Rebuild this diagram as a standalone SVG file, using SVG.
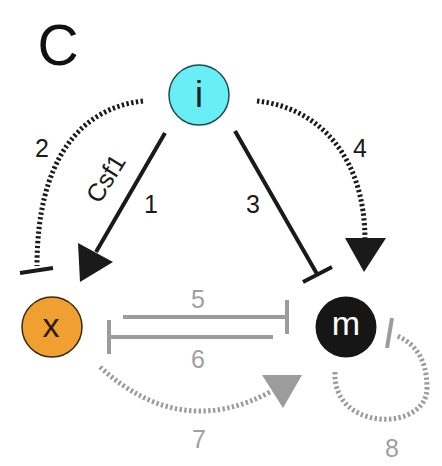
<svg xmlns="http://www.w3.org/2000/svg" width="442" height="466" viewBox="0 0 442 466">
<style>
text{font-family:"Liberation Sans",Arial,sans-serif;text-anchor:middle}
.lbl{font-size:25px;fill:#1a1a1a}
.glbl{font-size:25px;fill:#a0a0a0}
.solid{stroke:#1a1a1a;stroke-width:4;fill:none}
.dot{stroke:#1a1a1a;stroke-width:5;fill:none;stroke-dasharray:2.4 2.4}
.gsolid{stroke:#9c9c9c;stroke-width:4;fill:none}
.gdot{stroke:#9c9c9c;stroke-width:5;fill:none;stroke-dasharray:2.4 2.4}
</style>
<rect width="442" height="466" fill="#ffffff"/>
<text x="58" y="65" style="font-size:57px" fill="#111">C</text>
<g id="connectors">
  <!-- 1 -->
  <line class="solid" x1="165" y1="133" x2="96" y2="252"/>
  <polygon points="78,243 113,262 80,282" fill="#1a1a1a"/>
  <!-- 2 -->
  <path class="dot" d="M143,101 C80,108 37,160 37,266"/>
  <line class="solid" x1="20" y1="273" x2="53" y2="268"/>
  <!-- 3 -->
  <line class="solid" x1="235" y1="131" x2="317" y2="274"/>
  <line class="solid" x1="303" y1="282" x2="332" y2="267"/>
  <!-- 4 -->
  <path class="dot" d="M257,101 C322,108 365,160 365,240"/>
  <polygon points="345,238 386,238 364,272" fill="#1a1a1a"/>
  <!-- 5 -->
  <line class="gsolid" x1="123" y1="317" x2="287" y2="317"/>
  <line class="gsolid" x1="287" y1="300" x2="287" y2="334"/>
  <!-- 6 -->
  <line class="gsolid" x1="273" y1="337" x2="109" y2="337"/>
  <line class="gsolid" x1="109" y1="320" x2="109" y2="354"/>
  <!-- 7 -->
  <path class="gdot" d="M100,367 Q180,440 270,392"/>
  <polygon points="262,375 302,375 283,408" fill="#9c9c9c"/>
  <!-- 8 -->
  <path class="gdot" d="M335,372 C332,432 427,432 427,388 C427,356 412,342 397,336"/>
  <line class="gsolid" x1="392" y1="318" x2="387" y2="348"/>
</g>
<g id="labels">
  <text class="lbl" x="42" y="157">2</text>
  <text class="lbl" x="360" y="157">4</text>
  <text class="lbl" x="151" y="213">1</text>
  <text class="lbl" x="253" y="213">3</text>
  <text class="lbl" transform="translate(113,183) rotate(-58)" x="0" y="0" style="font-size:25px">Csf1</text>
  <text class="glbl" x="198" y="308">5</text>
  <text class="glbl" x="198" y="368">6</text>
  <text class="glbl" x="199" y="448">7</text>
  <text class="glbl" x="392" y="457">8</text>
</g>
<g id="node-i">
  <circle cx="199" cy="95" r="30" fill="#6aeef6" stroke="#1f4a50" stroke-width="1.5"/>
  <text x="199" y="107" style="font-size:36px" fill="#0d1a22">i</text>
</g>
<g id="node-x">
  <circle cx="52" cy="327" r="30" fill="#f0a030" stroke="#3a2a10" stroke-width="1.5"/>
  <text x="51" y="337" style="font-size:34px" fill="#2a1a08">x</text>
</g>
<g id="node-m">
  <circle cx="346" cy="327" r="30.5" fill="#161616"/>
  <text x="346" y="335" style="font-size:34px" fill="#ffffff">m</text>
</g>
</svg>
